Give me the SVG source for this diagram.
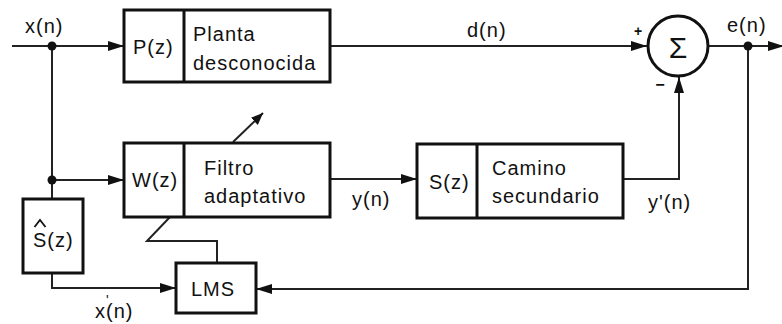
<svg xmlns="http://www.w3.org/2000/svg" width="782" height="324" viewBox="0 0 782 324">
<defs>
<marker id="ah" viewBox="0 0 16 10" refX="16" refY="5" markerWidth="16" markerHeight="10" markerUnits="userSpaceOnUse" orient="auto">
<path d="M0,0 L16,5 L0,10 Z" fill="#111"/>
</marker>
<marker id="ahs" viewBox="0 0 12 10" refX="12" refY="5" markerWidth="12" markerHeight="10" markerUnits="userSpaceOnUse" orient="auto">
<path d="M0,0 L12,5 L0,10 Z" fill="#111"/>
</marker>
</defs>
<style>
.box{fill:#fff;stroke:#111;stroke-width:3}
.ln{fill:none;stroke:#222;stroke-width:2}
.t{font-family:"Liberation Sans",Arial,sans-serif;font-size:20px;letter-spacing:1px;fill:#111}
.dot{fill:#111}
</style>
<rect width="782" height="324" fill="#fff"/>
<g id="connectors">
<path class="ln" d="M12,46 H124" marker-end="url(#ah)"/>
<path class="ln" d="M52,46 V199"/>
<path class="ln" d="M52,180 H124" marker-end="url(#ah)"/>
<path class="ln" d="M330,46 H647" marker-end="url(#ah)"/>
<path class="ln" d="M709,46 H784" marker-end="url(#ah)"/>
<path class="ln" d="M748,46 V289 H256" marker-end="url(#ah)"/>
<path class="ln" d="M330,179 H417" marker-end="url(#ah)"/>
<path class="ln" d="M623,179 H679 V77" marker-end="url(#ah)"/>
<path class="ln" d="M52,273 V288 H176" marker-end="url(#ah)"/>
<path class="ln" d="M217,263 V241 H147 L170,217"/>
<path class="ln" d="M233,142 L263,113" marker-end="url(#ahs)"/>
<circle class="dot" cx="52" cy="46" r="4.5"/>
<circle class="dot" cx="52" cy="180" r="4.5"/>
<circle class="dot" cx="748" cy="46" r="4.5"/>
</g>
<g id="P">
<rect class="box" x="124" y="10" width="206" height="72"/>
<line x1="184" y1="10" x2="184" y2="82" stroke="#111" stroke-width="3"/>
<text class="t" x="133" y="54">P(z)</text>
<text class="t" x="193" y="41">Planta</text>
<text class="t" x="193" y="70">desconocida</text>
</g>
<g id="W">
<rect class="box" x="124" y="143" width="206" height="74"/>
<line x1="184" y1="143" x2="184" y2="217" stroke="#111" stroke-width="3"/>
<text class="t" x="132" y="187">W(z)</text>
<text class="t" x="204" y="175">Filtro</text>
<text class="t" x="204" y="203">adaptativo</text>
</g>
<g id="S">
<rect class="box" x="417" y="144" width="206" height="74"/>
<line x1="477" y1="144" x2="477" y2="218" stroke="#111" stroke-width="3"/>
<text class="t" x="429" y="189">S(z)</text>
<text class="t" x="492" y="175">Camino</text>
<text class="t" x="492" y="203">secundario</text>
</g>
<g id="Shat">
<rect class="box" x="23" y="199" width="60" height="74"/>
<text class="t" x="33" y="247">S(z)</text>
<path d="M34.5,227 L40,220 L45.5,227" fill="none" stroke="#111" stroke-width="1.8"/>
</g>
<g id="LMS">
<rect class="box" x="176" y="263" width="80" height="50"/>
<text class="t" x="191" y="296">LMS</text>
</g>
<g id="sum">
<circle cx="678" cy="46" r="30" fill="#fff" stroke="#111" stroke-width="3"/>
<text class="t" x="678" y="58" text-anchor="middle" style="font-size:30px;letter-spacing:0">Σ</text>
<text class="t" x="638" y="36" text-anchor="middle" style="font-size:14px;font-weight:bold;letter-spacing:0">+</text>
<text class="t" x="660" y="90" text-anchor="middle" style="font-size:16px;font-weight:bold;letter-spacing:0">−</text>
</g>
<g id="labels">
<text class="t" x="25" y="33">x(n)</text>
<text class="t" x="467" y="37">d(n)</text>
<text class="t" x="727" y="32">e(n)</text>
<text class="t" x="352" y="206">y(n)</text>
<text class="t" x="648" y="209">y'(n)</text>
<text class="t" x="95" y="318">x(n)</text>
<text class="t" x="106" y="305" style="font-size:14px;letter-spacing:0">'</text>
</g>
</svg>
